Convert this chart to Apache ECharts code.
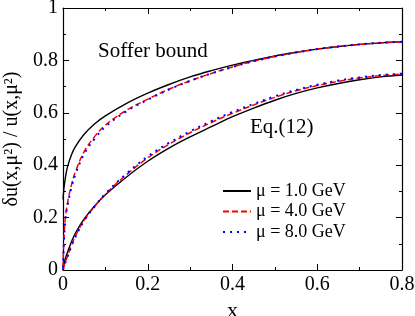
<!DOCTYPE html>
<html>
<head>
<meta charset="utf-8">
<script src="https://cdn.jsdelivr.net/npm/echarts@6/dist/echarts.min.js"></script>
<style>html,body{margin:0;padding:0;background:#fff}#c{width:415px;height:316px}</style>
</head>
<body>
<div id="c"></div>
<script>
var xGrid = [0, 0.001, 0.002, 0.005, 0.01, 0.02, 0.03, 0.05, 0.075, 0.1, 0.15, 0.2, 0.25, 0.3, 0.35, 0.4, 0.45, 0.5, 0.55, 0.6, 0.65, 0.7, 0.75, 0.8];
var sofferMu1 = [0.27, 0.29, 0.31, 0.345, 0.39, 0.44, 0.473, 0.518, 0.558, 0.588, 0.636, 0.675, 0.708, 0.737, 0.761, 0.782, 0.80, 0.817, 0.831, 0.843, 0.853, 0.861, 0.867, 0.871];
var sofferMu4 = [0.01, 0.07, 0.11, 0.19, 0.25, 0.325, 0.378, 0.452, 0.51, 0.553, 0.61, 0.652, 0.69, 0.722, 0.75, 0.775, 0.797, 0.815, 0.83, 0.843, 0.853, 0.861, 0.867, 0.871];
var sofferMu8 = [0.01, 0.06, 0.10, 0.18, 0.24, 0.315, 0.368, 0.443, 0.502, 0.547, 0.606, 0.65, 0.689, 0.722, 0.75, 0.775, 0.797, 0.815, 0.83, 0.843, 0.853, 0.861, 0.867, 0.871];
var eqMu1 = [0, 0.012, 0.02, 0.04, 0.065, 0.108, 0.143, 0.195, 0.245, 0.287, 0.355, 0.415, 0.465, 0.508, 0.547, 0.585, 0.618, 0.648, 0.674, 0.695, 0.712, 0.726, 0.737, 0.744];
var eqMu4 = [0, 0.006, 0.011, 0.028, 0.05, 0.094, 0.132, 0.19, 0.243, 0.289, 0.364, 0.428, 0.48, 0.524, 0.563, 0.598, 0.63, 0.659, 0.684, 0.704, 0.72, 0.733, 0.742, 0.748];
var eqMu8 = [0, 0.005, 0.01, 0.026, 0.048, 0.091, 0.129, 0.188, 0.243, 0.291, 0.368, 0.433, 0.485, 0.529, 0.568, 0.603, 0.634, 0.663, 0.687, 0.707, 0.723, 0.735, 0.744, 0.749];
var seriesNames = ['\u03bc = 1.0 GeV', '\u03bc = 4.0 GeV', '\u03bc = 8.0 GeV'];
var xTicks = [0, 0.2, 0.4, 0.6, 0.8];
var yTicks = [0, 0.2, 0.4, 0.6, 0.8, 1];

function pairs(ys) { return xGrid.map(function (x, i) { return [x, ys[i]]; }); }

var FONT = '"Liberation Serif", "Times New Roman", serif';
var styles = [
  {color: '#000000', type: 'solid', width: 1.4},
  {color: '#ff0000', type: [6, 3], width: 1.5},
  {color: '#0000ff', type: [2, 5], width: 2}
];
function mk(name, ys, st) {
  return {
    name: name, type: 'line', data: pairs(ys), symbol: 'none', smooth: 0.4,
    lineStyle: {color: st.color, type: st.type, width: st.width}, itemStyle: {color: st.color},
    silent: true, animation: false
  };
}
function axisCommon(show) {
  return {
    axisLine: {show: true, onZero: false, lineStyle: {color: '#000', width: 1.2}},
    axisTick: {show: true, inside: true, length: 6, lineStyle: {color: '#000', width: 1}},
    minorTick: {show: true, splitNumber: 2, length: 3, lineStyle: {color: '#000', width: 1}},
    splitLine: {show: false},
    axisLabel: {show: show, color: '#000', fontFamily: 'Liberation Serif', fontSize: 20, margin: 5}
  };
}
var xb = Object.assign({type: 'value', min: xTicks[0], max: xTicks[xTicks.length - 1], interval: 0.2, position: 'bottom',
  name: 'x', nameLocation: 'middle', nameGap: 25, nameTextStyle: {color: '#000', fontFamily: FONT, fontSize: 22}}, axisCommon(true));
var xt = Object.assign({type: 'value', min: xTicks[0], max: xTicks[xTicks.length - 1], interval: 0.2, position: 'top'}, axisCommon(false));
var yl = Object.assign({type: 'value', min: yTicks[0], max: yTicks[yTicks.length - 1], interval: 0.2, position: 'left',
  name: '\u03b4u(x,\u03bc\u00b2) / u(x,\u03bc\u00b2)', nameLocation: 'middle', nameGap: 36, nameRotate: 90,
  nameTextStyle: {color: '#000', fontFamily: FONT, fontSize: 20}}, axisCommon(true));
var yr = Object.assign({type: 'value', min: yTicks[0], max: yTicks[yTicks.length - 1], interval: 0.2, position: 'right'}, axisCommon(false));

var chart = echarts.init(document.getElementById('c'), null, {renderer: 'canvas'});
chart.setOption({
  backgroundColor: '#fff',
  animation: false,
  grid: {left: 63, right: 13, top: 8, bottom: 46, containLabel: false, outerBoundsMode: 'none'},
  xAxis: [xb, xt],
  yAxis: [yl, yr],
  legend: {
    data: seriesNames, orient: 'vertical', left: 217, top: 177, itemWidth: 28, itemHeight: 17, itemGap: 2.5,
    itemStyle: {opacity: 0},
    textStyle: {color: '#000', fontFamily: FONT, fontSize: 18, padding: [0, 0, 0, 0]},
    selectedMode: false
  },
  graphic: [
    {type: 'text', left: 98, top: 41, style: {text: 'Soffer bound', fill: '#000', font: '21px "Liberation Serif", serif'}},
    {type: 'text', left: 250, top: 117, style: {text: 'Eq.(12)', fill: '#000', font: '21px "Liberation Serif", serif'}}
  ],
  series: [
    mk(seriesNames[0], sofferMu1, styles[0]),
    mk(seriesNames[0], eqMu1, styles[0]),
    mk(seriesNames[1], sofferMu4, styles[1]),
    mk(seriesNames[1], eqMu4, styles[1]),
    mk(seriesNames[2], sofferMu8, styles[2]),
    mk(seriesNames[2], eqMu8, styles[2])
  ]
});
</script>
</body>
</html>
